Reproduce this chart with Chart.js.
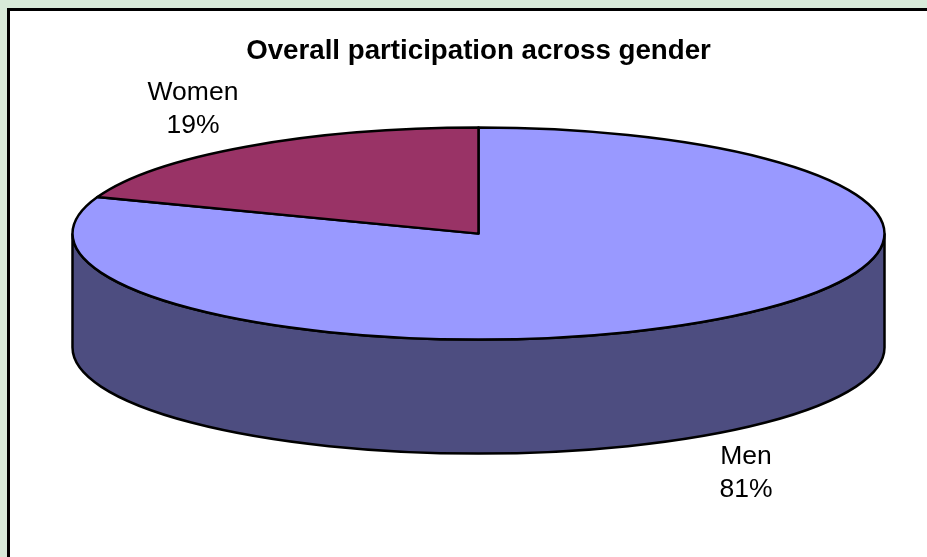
<!DOCTYPE html>
<html>
<head>
<meta charset="utf-8">
<style>
    html, body { margin: 0; padding: 0; width: 927px; height: 557px; overflow: hidden; background: #d8ead9; }
    #panel { position: absolute; left: 7px; top: 8px; right: 0; bottom: 0; background: #fff; border-left: 3px solid #000; border-top: 3px solid #000; }
    #wrap { position: absolute; left: 0; top: 0; width: 927px; height: 557px; }
</style>
<script src="https://cdn.jsdelivr.net/npm/chart.js@4"></script>
</head>
<body>
<div id="panel"></div>
<div id="wrap"><canvas id="chart" width="927" height="557"></canvas></div>
<script>
const categories = ['Men', 'Women'];
const shares = [80.6, 19.4];  // read from the slice edge, printed rounded
const topColors = ['#9999ff', '#993366'];
const wallColors = ['#4d4d80', '#4d1a33'];

const squash = 106 / 406;  // ellipse height / width
const depth = 114;         // height of the pie's side wall
const labelPos = [[746, 457, 490], [193, 93, 126]];

// Chart.js only draws round pies, so the slices are drawn here with a squashed
// context. Outlines are stroked after restore so the line width stays even.
const tiltedPie = {
    id: 'tiltedPie',
    beforeDatasetDraw(chart, args) {
        const ctx = chart.ctx;
        const arcs = args.meta.data;

        arcs.forEach((arc, i) => {
            const a0 = Math.max(arc.startAngle, 0);
            const a1 = Math.min(arc.endAngle, Math.PI);
            if (a1 <= a0) return;
            ctx.save();
            ctx.translate(arc.x, arc.y);
            ctx.scale(1, squash);
            ctx.beginPath();
            ctx.arc(0, depth / squash, arc.outerRadius, a0, a1);
            ctx.arc(0, 0, arc.outerRadius, a1, a0, true);
            ctx.closePath();
            ctx.restore();
            ctx.fillStyle = wallColors[i];
            ctx.fill();
            ctx.lineWidth = 2.5;
            ctx.strokeStyle = '#000';
            ctx.stroke();
        });

        arcs.forEach(arc => {
            ctx.save();
            ctx.translate(arc.x, arc.y);
            ctx.scale(1, squash);
            ctx.translate(-arc.x, -arc.y);
            arc.draw(ctx);
            ctx.translate(arc.x, arc.y);
            ctx.beginPath();
            ctx.moveTo(0, 0);
            ctx.arc(0, 0, arc.outerRadius, arc.startAngle, arc.endAngle);
            ctx.closePath();
            ctx.restore();
            ctx.lineWidth = 2.5;
            ctx.lineJoin = 'round';
            ctx.strokeStyle = '#000';
            ctx.stroke();
        });
        return false;
    },
    afterDraw(chart) {
        const ctx = chart.ctx;
        ctx.save();
        ctx.font = '26.5px "Liberation Sans", Arial, sans-serif';
        ctx.fillStyle = '#000';
        ctx.textAlign = 'center';
        ctx.textBaseline = 'middle';
        categories.forEach((name, i) => {
            ctx.fillText(name, labelPos[i][0], labelPos[i][1]);
            ctx.fillText(Math.round(shares[i]) + '%', labelPos[i][0], labelPos[i][2]);
        });
        ctx.restore();
    }
};

new Chart(document.getElementById('chart').getContext('2d'), {
    type: 'pie',
    data: {
        labels: categories,
        datasets: [{
            data: shares,
            backgroundColor: topColors,
            borderWidth: 0
        }]
    },
    options: {
        responsive: false,
        animation: false,
        radius: 406,
        layout: { padding: { left: 30, right: 0, top: 0, bottom: 158 } },
        plugins: {
            legend: { display: false },
            tooltip: { enabled: false },
            title: {
                display: true,
                text: 'Overall participation across gender',
                color: '#000',
                font: { family: '"Liberation Sans", Arial, sans-serif', size: 27.7, weight: 'bold', lineHeight: 1.2 },
                padding: { top: 35, bottom: 0 }
            }
        }
    },
    plugins: [tiltedPie]
});
</script>
</body>
</html>
